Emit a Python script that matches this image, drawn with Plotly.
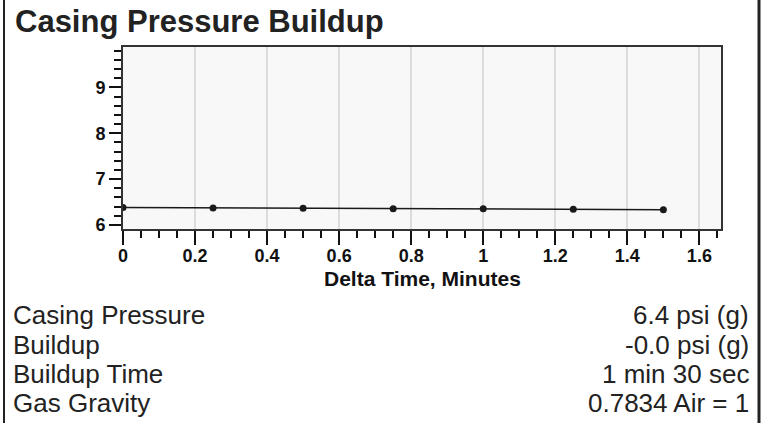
import plotly.graph_objects as go

# ---- data ----
delta_time_min = [0, 0.25, 0.5, 0.75, 1.0, 1.25, 1.5]
casing_pressure = [6.38, 6.37, 6.36, 6.35, 6.35, 6.34, 6.33]

info_labels = ["Casing Pressure", "Buildup", "Buildup Time", "Gas Gravity"]
info_values = ["6.4 psi (g)", "-0.0 psi (g)", "1 min 30 sec", "0.7834 Air = 1"]

title_text = "Casing Pressure Buildup"
x_title = "Delta Time, Minutes"

# ---- layout geometry (pixels) ----
W, H = 770, 423
L, R, T, B = 123, 721, 47, 229
pw, ph = R - L, B - T


def px_x(px):
    return (px - L) / pw


def px_y(py):
    return (B - py) / ph


fig = go.Figure()
fig.add_trace(go.Scatter(
    x=delta_time_min, y=casing_pressure, mode="lines+markers",
    line=dict(color="#1a1a1a", width=1.5),
    marker=dict(color="#1a1a1a", size=7),
    showlegend=False, hoverinfo="x+y",
))

tick_font = dict(family="Liberation Sans, Arial, sans-serif", size=18, color="#111", weight="bold")

fig.update_layout(
    width=W, height=H,
    margin=dict(l=L, r=W - R, t=T, b=H - B, autoexpand=False),
    paper_bgcolor="white",
    plot_bgcolor="#f8f8f8",
    title=dict(
        text=title_text,
        x=15 / W, xanchor="left", xref="container",
        y=1 - 21 / H, yanchor="middle", yref="container",
        font=dict(family="Liberation Sans, Arial, sans-serif", size=31, color="#222", weight="bold"),
    ),
    xaxis=dict(
        range=[0, 1.66], dtick=0.2, tick0=0,
        showgrid=True, gridcolor="#dcdcdc", gridwidth=2,
        zeroline=False,
        showline=True, linecolor="#333", linewidth=2, mirror=True,
        ticks="outside", ticklen=14, tickwidth=2, tickcolor="#111",
        minor=dict(dtick=0.05, tick0=0, ticks="outside", ticklen=7, tickwidth=2, tickcolor="#111", showgrid=False),
        tickfont=tick_font,
        ticklabelstandoff=-5,
        automargin=False,
    ),
    yaxis=dict(
        range=[5.91, 9.88], dtick=1, tick0=0,
        showgrid=False, zeroline=False,
        showline=True, linecolor="#333", linewidth=2, mirror=True,
        ticks="outside", ticklen=12, tickwidth=2, tickcolor="#111",
        minor=dict(dtick=0.2, tick0=0, ticks="outside", ticklen=7, tickwidth=2, tickcolor="#111", showgrid=False),
        tickfont=tick_font,
        automargin=False,
    ),
)

# x axis title
fig.add_annotation(text=x_title, xref="paper", yref="paper",
                   x=0.5, y=px_y(278), xanchor="center", yanchor="middle",
                   showarrow=False,
                   font=dict(family="Liberation Sans, Arial, sans-serif", size=21, color="#111", weight="bold"))

# outer frame lines (left and right)
fig.add_shape(type="line", xref="paper", yref="paper",
              x0=px_x(4), x1=px_x(4), y0=px_y(0), y1=px_y(H),
              line=dict(color="#222", width=2))
fig.add_shape(type="line", xref="paper", yref="paper",
              x0=px_x(759), x1=px_x(759), y0=px_y(0), y1=px_y(H),
              line=dict(color="#222", width=3))

row_y = [315, 345, 374, 403]
info_font = dict(family="Liberation Sans, Arial, sans-serif", size=26, color="#222")
for lab, val, yy in zip(info_labels, info_values, row_y):
    fig.add_annotation(text=lab, xref="paper", yref="paper",
                       x=px_x(11), y=px_y(yy), xanchor="left", yanchor="middle",
                       showarrow=False, font=info_font)
    fig.add_annotation(text=val, xref="paper", yref="paper",
                       x=px_x(751), y=px_y(yy), xanchor="right", yanchor="middle",
                       showarrow=False, font=info_font)

fig.write_html("out.html", config={"displayModeBar": False},
               post_script="document.body.style.margin='0';document.body.style.overflow='hidden';")
